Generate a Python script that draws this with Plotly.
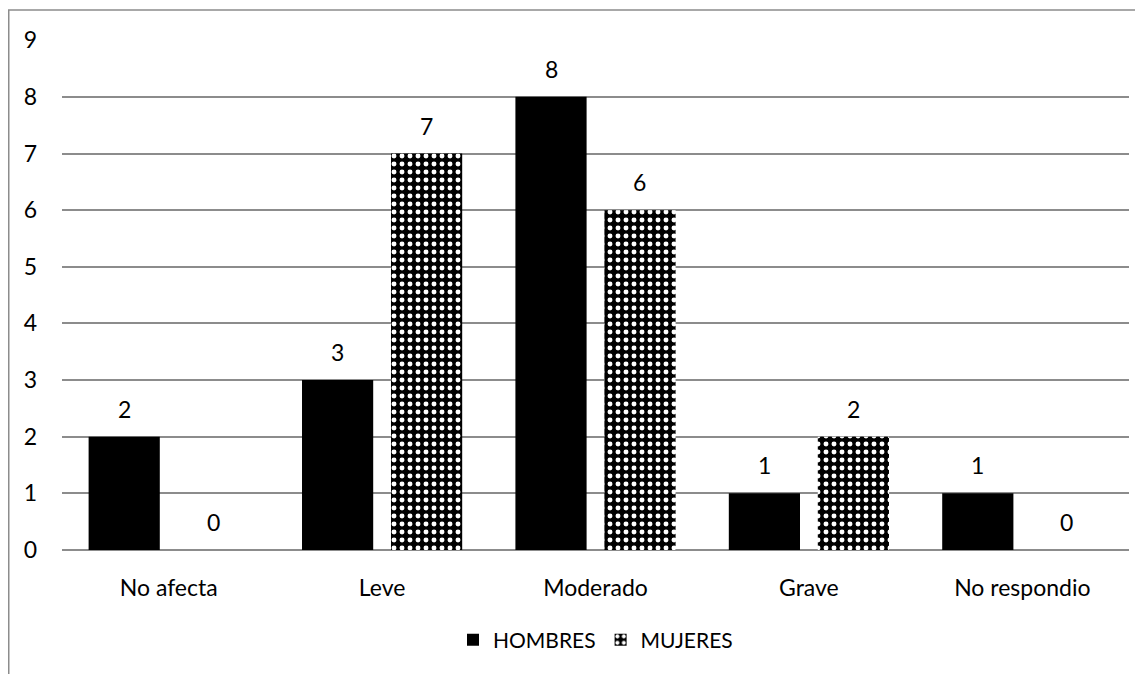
import plotly.graph_objects as go

categories = ["No afecta", "Leve", "Moderado", "Grave", "No respondio"]
hombres = [2, 3, 8, 1, 1]
mujeres = [0, 7, 6, 2, 0]
y_ticks = list(range(0, 10))

# page is rendered with an 8px body margin, so the figure is 8px smaller
W, H = 1135, 666
ml, mr, mt, mb = 54, 14, 32, 124
pw, ph = W - ml - mr, H - mt - mb

font = dict(family="Lato, Carlito, Calibri, sans-serif", size=23, color="#000000")
legend_font = dict(family="Lato, Carlito, Calibri, sans-serif", size=21, color="#000000")

fig = go.Figure()
fig.add_trace(go.Bar(
    name="HOMBRES", x=categories, y=hombres,
    marker=dict(color="#000000", line=dict(width=0)),
))
fig.add_trace(go.Bar(
    name="MUJERES", x=categories, y=mujeres,
    marker=dict(color="#000000", line=dict(width=0),
                pattern=dict(shape=".", fgcolor="#ffffff", bgcolor="#000000",
                             size=8, solidity=0.3, fillmode="replace")),
))

bargap, bargroupgap = 0.166, 0.2
slot = pw / len(categories) * (1 - bargap) / 2
for series, sign in ((hombres, -1), (mujeres, 1)):
    for c, v in zip(categories, series):
        fig.add_annotation(x=c, y=v, xref="x", yref="y", text=str(v),
                           showarrow=False, xanchor="center", yanchor="bottom",
                           xshift=sign * slot / 2, yshift=12, font=font)

# outer frame (partially outside the page, as in the reference)
x0 = (0.75 - ml) / pw
y1 = (H - mb - 2) / ph
fig.add_shape(type="rect", xref="paper", yref="paper",
              x0=x0, x1=1.2, y0=-0.5, y1=y1,
              line=dict(color="#8c8c8c", width=1.5), layer="below")

fig.update_layout(
    width=W, height=H,
    margin=dict(l=ml, r=mr, t=mt, b=mb),
    paper_bgcolor="#ffffff", plot_bgcolor="#ffffff",
    font=font,
    barmode="group", bargap=bargap, bargroupgap=bargroupgap,
    showlegend=True,
    legend=dict(orientation="h", x=0.5, xanchor="center",
                y=(542 - 632) / ph, yanchor="middle",
                font=legend_font, itemwidth=30, traceorder="normal"),
    xaxis=dict(showgrid=False, showline=False, ticks="", ticklabelstandoff=22,
               tickfont=font),
    yaxis=dict(range=[0, 9.004], tickvals=y_ticks, showgrid=True, gridcolor="#8c8c8c",
               gridwidth=1.5, zeroline=True, zerolinecolor="#8c8c8c", zerolinewidth=1.5,
               showline=False, ticks="", ticklabelstandoff=24, tickfont=font),
)

fig.write_html("out.html")
